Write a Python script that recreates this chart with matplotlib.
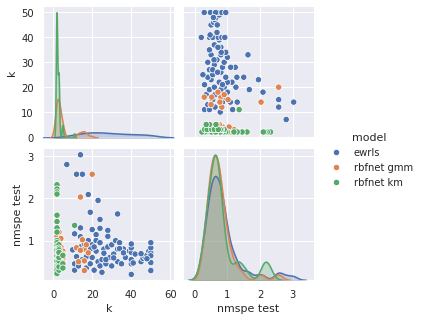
import matplotlib
matplotlib.use('Agg')
import matplotlib.pyplot as plt
import numpy as np
import pandas as pd
import seaborn as sns

# ewrls
ewrls_k = [14, 7, 12, 15, 18, 23, 19, 33, 24, 14, 24, 20, 28, 11, 22, 28, 14,
           10, 11, 11, 12, 13, 14, 15, 16, 17, 17, 18, 19, 20, 20, 21, 22, 22,
           23, 24, 24, 25, 25, 26, 27, 28, 29, 30, 30, 31, 32, 33, 33, 34, 35,
           36, 37, 39, 40, 40, 40, 40, 40, 40, 42, 45, 46, 47, 48, 49, 50, 50,
           50, 50, 50, 31, 34, 36, 50, 50, 48, 45, 41, 27, 19, 26, 21]
ewrls_n = [3.03, 2.8, 2.57, 2.57, 2.09, 1.95, 1.67, 1.63, 1.5, 1.3, 1.29, 1.26,
           1.24, 1.16, 1.14, 1.1, 1.09,
           0.78, 0.3, 0.45, 0.62, 0.4, 0.85, 0.55, 0.92, 0.62, 0.35, 1.0, 0.45,
           0.9, 0.6, 0.3, 1.0, 0.75, 0.5, 0.95, 0.4, 0.55, 0.25, 0.8, 0.45,
           0.85, 0.6, 0.9, 0.4, 0.68, 1.0, 0.5, 0.8, 0.95, 0.45, 0.8, 0.6, 0.75,
           0.2, 0.45, 0.55, 0.72, 0.83, 0.92, 0.68, 0.5, 0.58, 0.62, 0.65, 0.75,
           0.31, 0.48, 0.71, 0.83, 0.95, 0.59, 0.81, 0.71, 0.64, 0.29, 0.57,
           0.69, 0.47, 0.55, 0.8, 0.7, 0.85]

# rbfnet gmm
gmm_k = [2, 2, 2, 2, 2, 2, 2, 2, 2, 2, 2, 2, 2, 2, 2, 2,
         3, 3, 3, 3, 3, 3, 3, 3, 3, 3, 3, 3, 3, 3,
         4, 4, 4, 4, 4, 4,
         5, 5, 5, 5, 5, 5,
         20, 14, 15, 12, 16, 18, 14, 16, 16, 17, 13]
gmm_n = [1.45, 1.3, 1.1, 1.0, 0.9, 0.78, 0.7, 0.6, 0.5, 0.42, 0.35, 0.28,
         0.62, 0.74, 0.85, 0.55,
         1.2, 0.95, 0.8, 0.65, 0.55, 0.4, 0.3, 0.72, 0.6, 0.5, 0.66, 0.82,
         0.45, 0.7,
         0.85, 0.65, 0.55, 0.45, 1.05, 0.38,
         0.75, 0.62, 0.5, 0.68, 0.58, 0.48,
         2.57, 2.03, 1.02, 0.83, 0.8, 0.71, 0.77, 0.52, 0.29, 0.9, 0.5]

# rbfnet km
km_k = [2, 2, 2, 2, 2, 2, 2, 2, 2, 2, 2, 2, 2, 2, 2, 2, 2, 2, 2, 2, 2, 2,
        2, 2, 2, 2, 2, 2, 2, 2,
        3, 3, 3, 3, 3, 3, 3, 3, 3, 3, 3, 3, 3, 3, 3,
        5, 5, 5, 11]
km_n = [2.32, 2.22, 2.15, 2.1, 1.6, 1.45, 1.3, 1.2, 1.0, 0.95, 0.88, 0.8,
        0.75, 0.7, 0.65, 0.62, 0.58, 0.55, 0.5, 0.45, 0.4, 0.35, 0.3, 0.22,
        0.68, 0.6, 0.72, 0.52, 0.78, 0.64,
        0.9, 0.75, 0.6, 0.45, 0.3, 0.7, 0.55, 0.68, 0.82, 0.38, 0.52, 0.65,
        0.78, 0.6, 0.72,
        0.65, 0.45, 0.35, 1.36]

df = pd.DataFrame({
    'k': ewrls_k + gmm_k + km_k,
    'nmspe test': ewrls_n + gmm_n + km_n,
    'model': ['ewrls'] * len(ewrls_k) + ['rbfnet gmm'] * len(gmm_k) + ['rbfnet km'] * len(km_k),
})


def diag_kde(x, color=None, label=None, **kws):
    # scott bandwidth with the IQR rule, cut=3, like the old statsmodels kde
    x = np.asarray(x, dtype=float)
    n = len(x)
    iqr = (np.percentile(x, 75) - np.percentile(x, 25)) / 1.349
    sd = x.std(ddof=1)
    a = min(sd, iqr) if iqr > 0 else sd
    bw = 1.059 * a * n ** -0.2
    grid = np.linspace(x.min() - 3 * bw, x.max() + 3 * bw, 100)
    dens = np.exp(-0.5 * ((grid[:, None] - x[None, :]) / bw) ** 2).sum(axis=1)
    dens /= n * bw * np.sqrt(2 * np.pi)
    ax = plt.gca()
    ax.plot(grid, dens, color=color, label=label, lw=1.5)
    ax.fill_between(grid, 0, dens, color=color, alpha=0.25)
    ax.set_ylim(0, auto=None)


sns.set_theme()
plt.rcParams.update({'axes.labelsize': 11, 'xtick.labelsize': 10,
                     'ytick.labelsize': 10, 'legend.fontsize': 10,
                     'legend.title_fontsize': 11})

g = sns.PairGrid(df, hue='model', height=2.25, diag_sharey=False)
g.map_diag(diag_kde)
g.map_offdiag(sns.scatterplot, s=40, edgecolor='white', linewidth=0.75)
g.add_legend(handlelength=2, handletextpad=0.8)

g.figure.set_size_inches(423 / 72, 324 / 72)
g.figure.subplots_adjust(left=0.11, right=0.749, bottom=0.136, top=0.981,
                         wspace=0.064, hspace=0.083)
g.axes[0, 1].set_ylim(-0.4, 52.4)
g.axes[0, 1].set_yticks([0, 10, 20, 30, 40, 50])
g.axes[1, 0].set_ylim(0.06, 3.17)
g.axes[1, 0].set_xlim(-5, 62)
g.axes[1, 0].set_xticks([0, 20, 40, 60])
g.axes[1, 1].set_xlim(-0.37, 3.64)
g.axes[1, 1].set_xticks([0, 1, 2, 3])
g.savefig('out.png', dpi=72)
